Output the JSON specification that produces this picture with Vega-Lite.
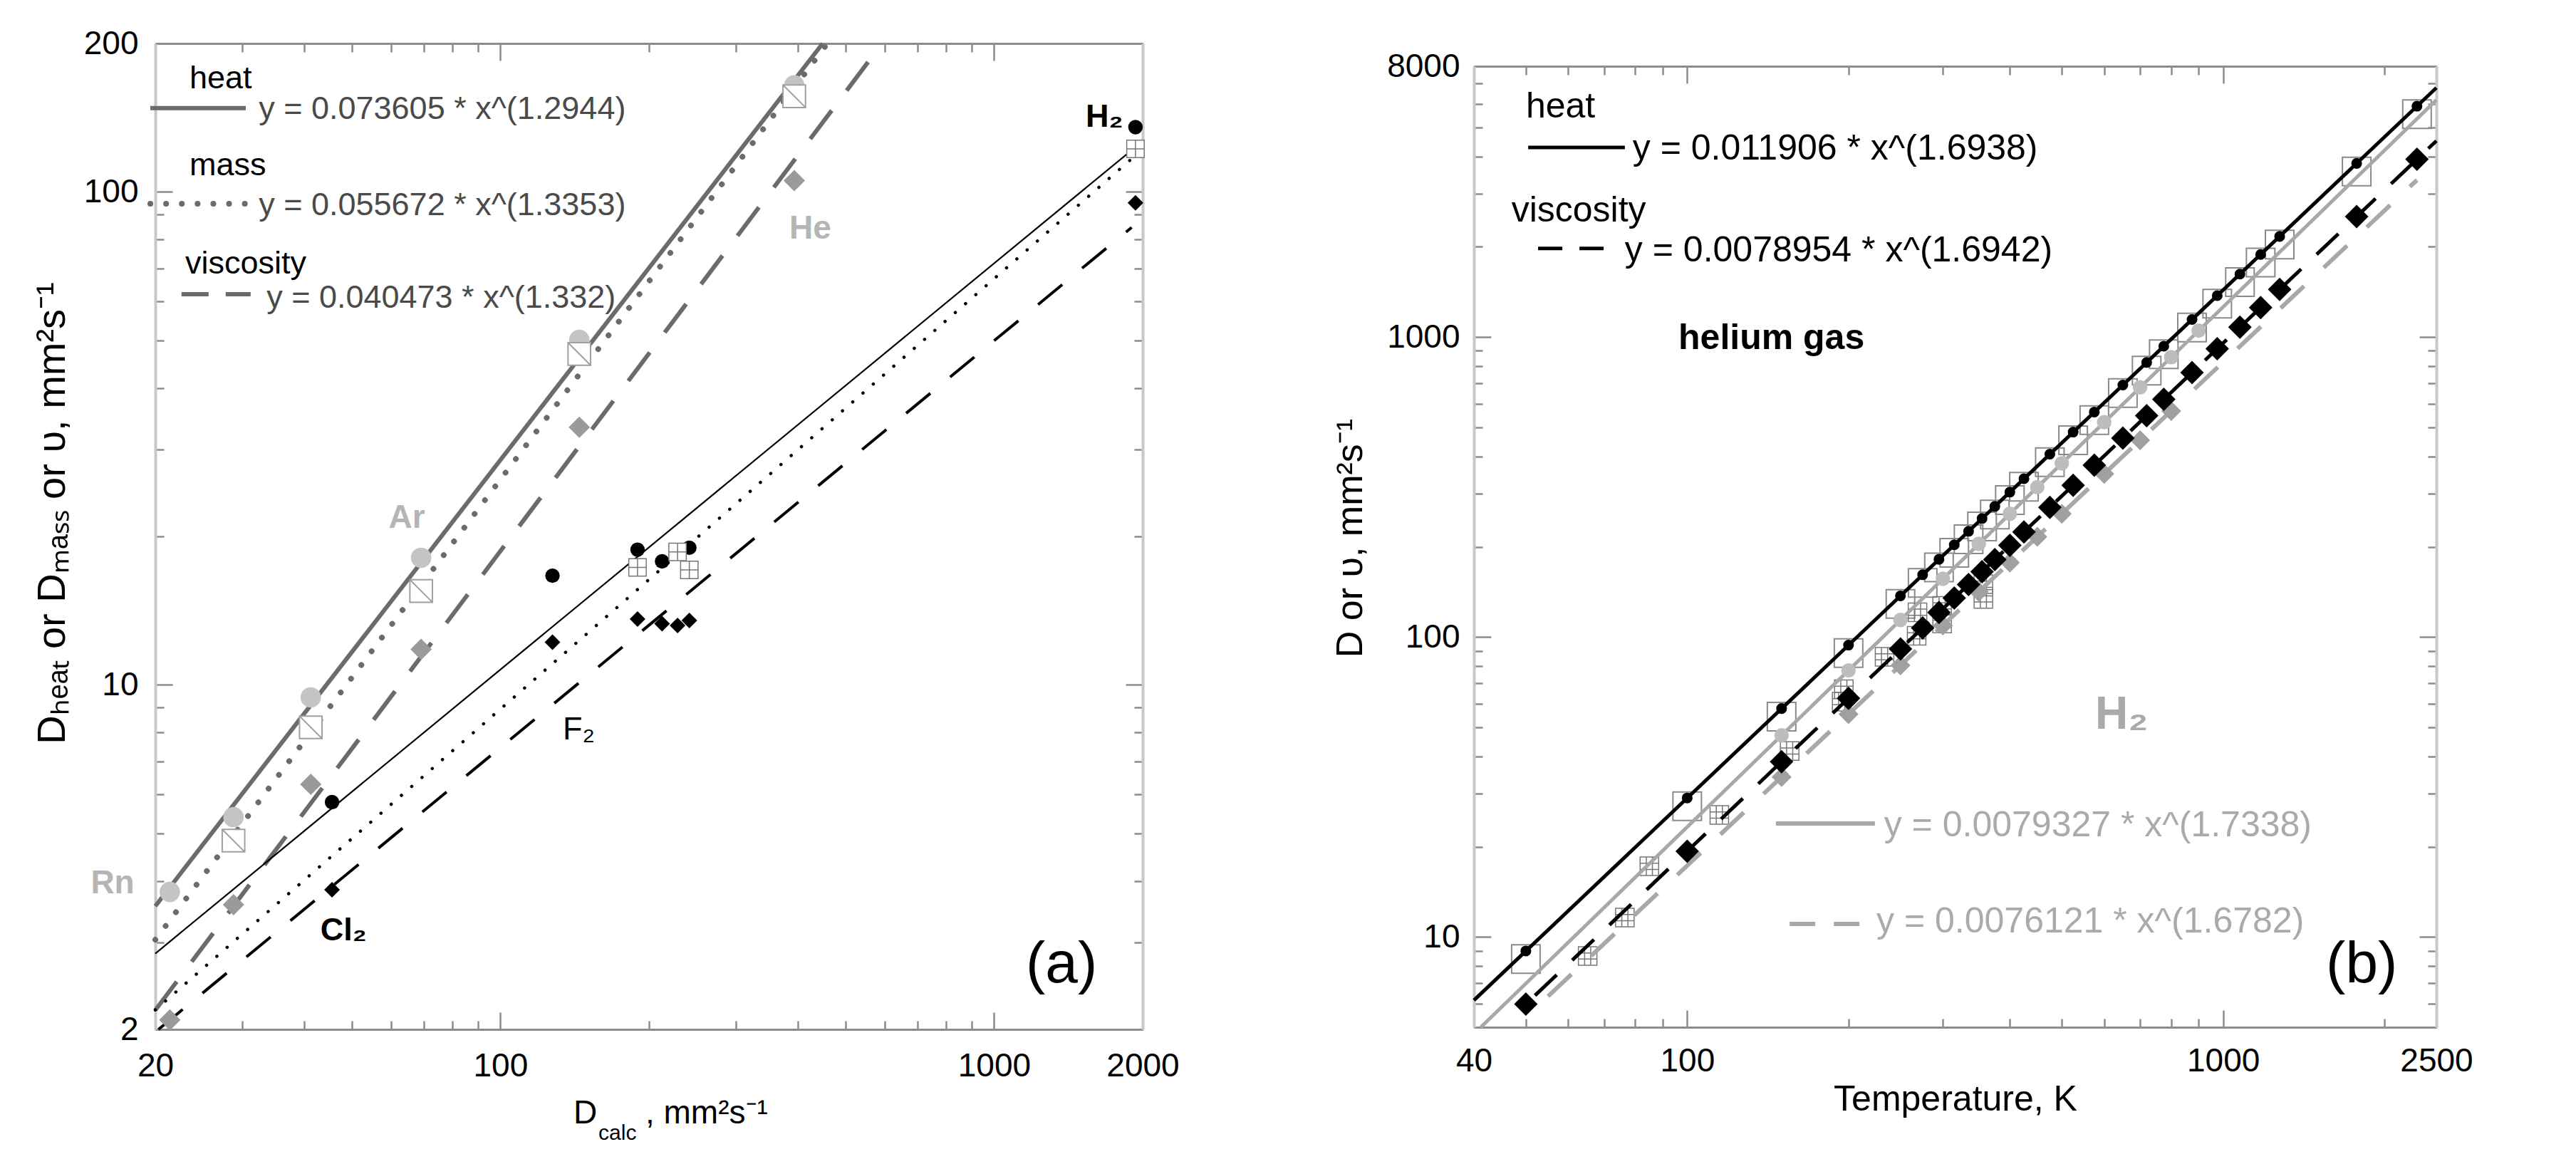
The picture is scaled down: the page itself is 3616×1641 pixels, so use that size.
{
"$schema": "https://vega.github.io/schema/vega-lite/v6.json",
"padding": {"left": 45, "top": 38, "right": 20, "bottom": 20},
"background": "white",
"config": {
  "font": "Liberation Sans",
  "view": {"stroke": null},
  "axis": {"grid": false, "labelFontSize": 46, "labelColor": "#000", "labelFont": "Liberation Sans", "tickColor": "#8c8c8c", "tickWidth": 2.5, "titleFont": "Liberation Sans", "titleColor": "#000", "titleFontWeight": "normal"}
},
"datasets": {
  "linesA": [
    {"s":"gh","x":20,"y":3.557},{"s":"gh","x":449.6,"y":200},
    {"s":"gm","x":20,"y":3.04},{"s":"gm","x":459.7,"y":200},
    {"s":"gv","x":20,"y":2.188},{"s":"gv","x":593.1,"y":200},
    {"s":"bh","x":20,"y":2.85},{"s":"bh","x":1900,"y":121.5},
    {"s":"bm","x":20,"y":2.19},{"s":"bm","x":1900,"y":116.7},
    {"s":"bv","x":20.3,"y":2.0},{"s":"bv","x":1900,"y":84.7}
  ],
  "legA": [
    {"s":"h","x":19.54,"x2":30.5,"y":147.9},
    {"s":"m","x":19.54,"x2":30.5,"y":94.6},
    {"s":"v","x":22.6,"x2":31.2,"y":62.0}
  ],
  "ptsA": [
    {"g":"nh","x":21.4,"y":3.80},{"g":"nh","x":28.8,"y":5.39},{"g":"nh","x":41.3,"y":9.43},{"g":"nh","x":69.1,"y":18.1},{"g":"nh","x":144.5,"y":50.1},{"g":"nh","x":393.8,"y":164.4},
    {"g":"nm","x":28.8,"y":4.83},{"g":"nm","x":41.3,"y":8.20},{"g":"nm","x":69.1,"y":15.5},{"g":"nm","x":144.5,"y":46.9},{"g":"nm","x":393.8,"y":156.3},
    {"g":"nv","x":21.4,"y":2.09},{"g":"nv","x":28.8,"y":3.58},{"g":"nv","x":41.3,"y":6.28},{"g":"nv","x":69.1,"y":11.8},{"g":"nv","x":144.5,"y":33.3},{"g":"nv","x":393.8,"y":105.4},
    {"g":"bh","x":45.6,"y":5.78},{"g":"bh","x":127.5,"y":16.65},{"g":"bh","x":189.6,"y":18.8},{"g":"bh","x":212.6,"y":17.8},{"g":"bh","x":241.4,"y":18.97},{"g":"bh","x":1934,"y":135.3},
    {"g":"bm","x":189.6,"y":17.3},{"g":"bm","x":228.5,"y":18.6},{"g":"bm","x":241.4,"y":17.1},{"g":"bm","x":1934,"y":122.2},
    {"g":"bv","x":45.6,"y":3.84},{"g":"bv","x":127.5,"y":12.2},{"g":"bv","x":189.6,"y":13.6},{"g":"bv","x":212.6,"y":13.3},{"g":"bv","x":228.5,"y":13.2},{"g":"bv","x":241.4,"y":13.5},{"g":"bv","x":1934,"y":95.0}
  ],
  "txtA": [
    {"g":"plain","t":"heat","x":23.45,"y":169.9},
    {"g":"plain","t":"mass","x":23.45,"y":113.2},
    {"g":"plain","t":"viscosity","x":23.0,"y":71.6},
    {"g":"plain","t":"F₂","x":133.8,"y":8.12},
    {"g":"eq","t":"y = 0.073605 * x^(1.2944)","x":32.4,"y":147.2},
    {"g":"eq","t":"y = 0.055672 * x^(1.3353)","x":32.4,"y":94.0},
    {"g":"eq","t":"y = 0.040473 * x^(1.332)","x":33.6,"y":61.0},
    {"g":"gray","t":"Rn","x":14.8,"y":3.96},
    {"g":"gray","t":"Ar","x":59.4,"y":21.8},
    {"g":"gray","t":"He","x":385,"y":84.2},
    {"g":"bold","t":"H₂","x":1533,"y":142},
    {"g":"bold","t":"Cl₂","x":43.2,"y":3.18},
    {"g":"big","t":"(a)","x":1160,"y":2.71},
    {"g":"title","t":"D","x":140.6,"y":1.289},
    {"g":"title","t":", mm²s⁻¹","x":196.7,"y":1.289},
    {"g":"sub","t":"calc","x":158.0,"y":1.194}
  ],
  "linesB": [
    {"s":"bh","x":40,"y":6.15},{"s":"bh","x":2500,"y":6780},
    {"s":"gh","x":41.2,"y":5},{"s":"gh","x":2500,"y":6174},
    {"s":"bv","x":52,"y":6.38},{"s":"bv","x":2500,"y":4510},
    {"s":"gv","x":55,"y":6.34},{"s":"gv","x":2300,"y":3340}
  ],
  "legB": [
    {"s":"bh","x":50.5,"x2":76.5,"y":4290},
    {"s":"bv","x":52.7,"x2":70.0,"y":1974},
    {"s":"gh","x":146.4,"x2":224,"y":23.9},
    {"s":"gv","x":155.3,"x2":210,"y":11.05}
  ],
  "ptsB": [
    {"g":"bh","x":50,"y":8.98},{"g":"bh","x":100,"y":29.06},{"g":"bh","x":150,"y":57.75},{"g":"bh","x":200,"y":94.0},{"g":"bh","x":250,"y":137.2},{"g":"bh","x":275,"y":161.3},{"g":"bh","x":295,"y":181.6},{"g":"bh","x":315,"y":203.0},{"g":"bh","x":335,"y":225.2},{"g":"bh","x":355,"y":248.5},{"g":"bh","x":375,"y":272.7},{"g":"bh","x":400,"y":304.2},{"g":"bh","x":425,"y":337.2},{"g":"bh","x":475,"y":407.1},{"g":"bh","x":525,"y":482.2},{"g":"bh","x":575,"y":562.5},{"g":"bh","x":650,"y":692.3},{"g":"bh","x":720,"y":823.0},{"g":"bh","x":775,"y":932.4},{"g":"bh","x":875,"y":1145},{"g":"bh","x":975,"y":1375},{"g":"bh","x":1075,"y":1622},{"g":"bh","x":1175,"y":1886},{"g":"bh","x":1275,"y":2166},{"g":"bh","x":1775,"y":3795},{"g":"bh","x":2300,"y":5888},
    {"g":"bs","x":50,"y":8.44},{"g":"bs","x":100,"y":27.3},{"g":"bs","x":150,"y":54.3},{"g":"bs","x":200,"y":88.4},{"g":"bs","x":250,"y":129},{"g":"bs","x":275,"y":151.6},{"g":"bs","x":295,"y":170.7},{"g":"bs","x":315,"y":190.8},{"g":"bs","x":335,"y":211.7},{"g":"bs","x":355,"y":233.6},{"g":"bs","x":375,"y":256.3},{"g":"bs","x":400,"y":286},{"g":"bs","x":425,"y":317},{"g":"bs","x":475,"y":382.7},{"g":"bs","x":525,"y":453.3},{"g":"bs","x":575,"y":528.8},{"g":"bs","x":650,"y":650.8},{"g":"bs","x":720,"y":773.6},{"g":"bs","x":775,"y":876.5},{"g":"bs","x":875,"y":1076},{"g":"bs","x":975,"y":1293},{"g":"bs","x":1075,"y":1525},{"g":"bs","x":1175,"y":1773},{"g":"bs","x":1275,"y":2036},{"g":"bs","x":1775,"y":3567},{"g":"bs","x":2300,"y":5535},
    {"g":"bv","x":50,"y":5.97},{"g":"bv","x":100,"y":19.31},{"g":"bv","x":150,"y":38.39},{"g":"bv","x":200,"y":62.5},{"g":"bv","x":250,"y":91.2},{"g":"bv","x":275,"y":107.2},{"g":"bv","x":295,"y":120.7},{"g":"bv","x":315,"y":134.9},{"g":"bv","x":335,"y":149.7},{"g":"bv","x":355,"y":165.2},{"g":"bv","x":375,"y":181.3},{"g":"bv","x":400,"y":202.2},{"g":"bv","x":425,"y":224.1},{"g":"bv","x":475,"y":270.5},{"g":"bv","x":525,"y":320.6},{"g":"bv","x":575,"y":374.0},{"g":"bv","x":650,"y":460.3},{"g":"bv","x":720,"y":547.4},{"g":"bv","x":775,"y":620.1},{"g":"bv","x":875,"y":761.7},{"g":"bv","x":975,"y":915.0},{"g":"bv","x":1075,"y":1080},{"g":"bv","x":1175,"y":1255},{"g":"bv","x":1275,"y":1442},{"g":"bv","x":1775,"y":2523},{"g":"bv","x":2300,"y":3916},
    {"g":"gh","x":150,"y":47.0},{"g":"gh","x":200,"y":77.4},{"g":"gh","x":250,"y":114.0},{"g":"gh","x":300,"y":156.4},{"g":"gh","x":350,"y":204.4},{"g":"gh","x":400,"y":257.6},{"g":"gh","x":450,"y":315.9},{"g":"gh","x":500,"y":379.3},{"g":"gh","x":600,"y":520.3},{"g":"gh","x":700,"y":679.8},{"g":"gh","x":800,"y":857.0},{"g":"gh","x":900,"y":1051},
    {"g":"gv","x":150,"y":34.15},{"g":"gv","x":200,"y":55.3},{"g":"gv","x":250,"y":80.5},{"g":"gv","x":300,"y":109.3},{"g":"gv","x":350,"y":141.5},{"g":"gv","x":400,"y":177.1},{"g":"gv","x":450,"y":215.8},{"g":"gv","x":500,"y":257.6},{"g":"gv","x":600,"y":349.9},{"g":"gv","x":700,"y":453.0},{"g":"gv","x":800,"y":566.8},
    {"g":"gm","x":65.2,"y":8.64},{"g":"gm","x":76.5,"y":11.6},{"g":"gm","x":85,"y":17.2},{"g":"gm","x":114.8,"y":25.5},{"g":"gm","x":155.3,"y":41.7},{"g":"gm","x":194.2,"y":60.9},{"g":"gm","x":196,"y":67},{"g":"gm","x":233.5,"y":85.9},{"g":"gm","x":268,"y":101},{"g":"gm","x":269,"y":121},{"g":"gm","x":299,"y":127},{"g":"gm","x":299,"y":111},{"g":"gm","x":357,"y":150},{"g":"gm","x":357,"y":134}
  ],
  "txtB": [
    {"g":"plain","t":"heat","x":50.0,"y":5860},
    {"g":"plain","t":"viscosity","x":47.0,"y":2636},
    {"g":"plain","t":"y = 0.011906 * x^(1.6938)","x":79.1,"y":4243},
    {"g":"plain","t":"y = 0.0078954 * x^(1.6942)","x":76.5,"y":1941},
    {"g":"bold","t":"helium gas","x":96.3,"y":993},
    {"g":"grayBig","t":"H₂","x":577,"y":55},
    {"g":"grayEq","t":"y = 0.0079327 * x^(1.7338)","x":233,"y":23.5},
    {"g":"grayEq","t":"y = 0.0076121 * x^(1.6782)","x":225.5,"y":11.23},
    {"g":"big","t":"(b)","x":1556,"y":8.09}
  ]
},
"spacing": 465,
"bounds": "flush",
"hconcat": [
{
  "width": 1386, "height": 1384,
  "encoding": {
    "x": {"field":"x","type":"quantitative","scale":{"type":"log","domain":[20,2000],"nice":false},"axis":null},
    "y": {"field":"y","type":"quantitative","scale":{"type":"log","domain":[2,200],"nice":false},"axis":null}
  },
  "layer": [
    {"data":{"name":"linesA"},"transform":[{"filter":"datum.s == 'gh'"}],
     "mark":{"type":"line","color":"#6b6b6b","strokeWidth":6},
     "encoding":{
       "x":{"field":"x","type":"quantitative","scale":{"type":"log","domain":[20,2000],"nice":false},
            "axis":{"orient":"bottom","values":[20,30,40,50,60,70,80,90,100,200,300,400,500,600,700,800,900,1000,2000],"format":"d",
                    "labelExpr":"indexof([20,100,1000,2000], datum.value) >= 0 ? datum.label : ''",
                    "tickSize":{"condition":{"test":"indexof([20,100,1000,2000], datum.value) >= 0","value":-24},"value":-12},
                    "labelPadding":53,"labelFlush":false,"labelOverlap":false,"title":null,"domainColor":"#8c8c8c","domainWidth":3}},
       "y":{"field":"y","type":"quantitative","scale":{"type":"log","domain":[2,200],"nice":false},
            "axis":{"orient":"left","values":[2,3,4,5,6,7,8,9,10,20,30,40,50,60,70,80,90,100,200],"format":"d",
                    "labelExpr":"indexof([2,10,100,200], datum.value) >= 0 ? datum.label : ''",
                    "tickSize":{"condition":{"test":"indexof([2,10,100,200], datum.value) >= 0","value":-24},"value":-12},
                    "labelPadding":48,"labelFlush":false,"labelOverlap":false,
                    "title":"Dₕₑₐₜ  or  Dₘₐₛₛ  or  υ, mm²s⁻¹","titleX":-145,"titleY":659,"titleBaseline":"middle","titleFontSize":56,
                    "domainColor":"#c8c8c8","domainWidth":4}}
     }},
    {"data":{"name":"linesA"},"transform":[{"filter":"datum.s == 'gm'"}],
     "mark":{"type":"line","color":"#6b6b6b","strokeWidth":8,"strokeDash":[0.1,24],"strokeCap":"round"},
     "encoding":{
       "x":{"field":"x","type":"quantitative","scale":{"type":"log","domain":[20,2000],"nice":false},
            "axis":{"orient":"top","values":[20,30,40,50,60,70,80,90,100,200,300,400,500,600,700,800,900,1000,2000],"labels":false,
                    "tickSize":{"condition":{"test":"indexof([20,100,1000,2000], datum.value) >= 0","value":-24},"value":-12},
                    "title":null,"domainColor":"#8c8c8c","domainWidth":3}},
       "y":{"field":"y","type":"quantitative","scale":{"type":"log","domain":[2,200],"nice":false},
            "axis":{"orient":"right","values":[2,3,4,5,6,7,8,9,10,20,30,40,50,60,70,80,90,100,200],"labels":false,
                    "tickSize":{"condition":{"test":"indexof([2,10,100,200], datum.value) >= 0","value":-24},"value":-12},
                    "title":null,"domainColor":"#c8c8c8","domainWidth":4}}
     }},
    {"data":{"name":"linesA"},"transform":[{"filter":"datum.s == 'gv'"}],
     "mark":{"type":"line","color":"#6b6b6b","strokeWidth":6,"strokeDash":[50,35]}},
    {"data":{"name":"linesA"},"transform":[{"filter":"datum.s == 'bh'"}],
     "mark":{"type":"line","color":"#000","strokeWidth":2.2}},
    {"data":{"name":"linesA"},"transform":[{"filter":"datum.s == 'bm'"}],
     "mark":{"type":"line","color":"#000","strokeWidth":4.5,"strokeDash":[0.1,19],"strokeCap":"round"}},
    {"data":{"name":"linesA"},"transform":[{"filter":"datum.s == 'bv'"}],
     "mark":{"type":"line","color":"#000","strokeWidth":4,"strokeDash":[44,36]}},
    {"data":{"name":"legA"},"transform":[{"filter":"datum.s == 'h'"}],
     "mark":{"type":"rule","color":"#6b6b6b","strokeWidth":6},
     "encoding":{"x2":{"field":"x2"}}},
    {"data":{"name":"legA"},"transform":[{"filter":"datum.s == 'm'"}],
     "mark":{"type":"rule","color":"#6b6b6b","strokeWidth":8,"strokeDash":[0.1,22],"strokeCap":"round"},
     "encoding":{"x2":{"field":"x2"}}},
    {"data":{"name":"legA"},"transform":[{"filter":"datum.s == 'v'"}],
     "mark":{"type":"rule","color":"#6b6b6b","strokeWidth":6,"strokeDash":[38,24]},
     "encoding":{"x2":{"field":"x2"}}},
    {"data":{"name":"ptsA"},"transform":[{"filter":"datum.g == 'nh'"}],
     "mark":{"type":"circle","color":"#c4c4c4","size":820,"opacity":1}},
    {"data":{"name":"ptsA"},"transform":[{"filter":"datum.g == 'bh'"}],
     "mark":{"type":"circle","color":"#000","size":415,"opacity":1}},
    {"data":{"name":"ptsA"},"transform":[{"filter":"datum.g == 'nm'"}],
     "mark":{"type":"point","shape":"M-1,-1L1,-1L1,1L-1,1Z M-1,-1L1,1","filled":true,"fill":"white","stroke":"#a0a0a0","strokeWidth":2,"size":1000,"opacity":1}},
    {"data":{"name":"ptsA"},"transform":[{"filter":"datum.g == 'bm'"}],
     "mark":{"type":"point","shape":"M-1,-1L1,-1L1,1L-1,1Z M0,-1L0,1 M-1,0L1,0","filled":true,"fill":"white","stroke":"#777","strokeWidth":1.5,"size":600,"opacity":1}},
    {"data":{"name":"ptsA"},"transform":[{"filter":"datum.g == 'nv'"}],
     "mark":{"type":"point","shape":"diamond","filled":true,"color":"#9a9a9a","size":900,"opacity":1}},
    {"data":{"name":"ptsA"},"transform":[{"filter":"datum.g == 'bv'"}],
     "mark":{"type":"point","shape":"diamond","filled":true,"color":"#000","size":484,"opacity":1}},
    {"data":{"name":"txtA"},"transform":[{"filter":"datum.g == 'plain'"}],
     "mark":{"type":"text","align":"left","baseline":"middle","fontSize":45,"color":"#000"},
     "encoding":{"text":{"field":"t"}}},
    {"data":{"name":"txtA"},"transform":[{"filter":"datum.g == 'eq'"}],
     "mark":{"type":"text","align":"left","baseline":"middle","fontSize":45,"color":"#4a4a4a"},
     "encoding":{"text":{"field":"t"}}},
    {"data":{"name":"txtA"},"transform":[{"filter":"datum.g == 'gray'"}],
     "mark":{"type":"text","align":"left","baseline":"middle","fontSize":46,"fontWeight":"bold","color":"#b5b5b5"},
     "encoding":{"text":{"field":"t"}}},
    {"data":{"name":"txtA"},"transform":[{"filter":"datum.g == 'bold'"}],
     "mark":{"type":"text","align":"left","baseline":"middle","fontSize":45,"fontWeight":"bold","color":"#000"},
     "encoding":{"text":{"field":"t"}}},
    {"data":{"name":"txtA"},"transform":[{"filter":"datum.g == 'big'"}],
     "mark":{"type":"text","align":"left","baseline":"middle","fontSize":82,"color":"#000"},
     "encoding":{"text":{"field":"t"}}},
    {"data":{"name":"txtA"},"transform":[{"filter":"datum.g == 'title'"}],
     "mark":{"type":"text","align":"left","baseline":"alphabetic","fontSize":46,"color":"#000"},
     "encoding":{"text":{"field":"t"}}},
    {"data":{"name":"txtA"},"transform":[{"filter":"datum.g == 'sub'"}],
     "mark":{"type":"text","align":"left","baseline":"alphabetic","fontSize":30,"color":"#000"},
     "encoding":{"text":{"field":"t"}}}
  ]
},
{
  "spacing": 0,
  "bounds": "flush",
  "vconcat": [
    {"width": 1351, "height": 32, "data": {"values": []}, "mark": "point"},
    {
      "width": 1351, "height": 1349,
      "encoding": {
        "x": {"field":"x","type":"quantitative","scale":{"type":"log","domain":[40,2500],"nice":false},"axis":null},
        "y": {"field":"y","type":"quantitative","scale":{"type":"log","domain":[5,8000],"nice":false},"axis":null}
      },
      "layer": [
        {"data":{"name":"ptsB"},"transform":[{"filter":"datum.g == 'bs'"}],
         "mark":{"type":"point","shape":"square","filled":false,"stroke":"#8a8a8a","strokeWidth":2,"size":1600,"opacity":1},
         "encoding":{
           "x":{"field":"x","type":"quantitative","scale":{"type":"log","domain":[40,2500],"nice":false},
                "axis":{"orient":"bottom","values":[40,50,60,70,80,90,100,200,300,400,500,600,700,800,900,1000,2000,2500],"format":"d",
                        "labelExpr":"indexof([40,100,1000,2500], datum.value) >= 0 ? datum.label : ''",
                        "tickSize":{"condition":{"test":"indexof([40,100,1000,2500], datum.value) >= 0","value":-24},"value":-12},
                        "labelPadding":49,"labelFlush":false,"labelOverlap":false,
                        "title":"Temperature, K","titleFontSize":50,"titleBaseline":"alphabetic","titleY":116,
                        "domainColor":"#8c8c8c","domainWidth":3}},
           "y":{"field":"y","type":"quantitative","scale":{"type":"log","domain":[5,8000],"nice":false},
                "axis":{"orient":"left","values":[5,6,7,8,9,10,20,30,40,50,60,70,80,90,100,200,300,400,500,600,700,800,900,1000,2000,3000,4000,5000,6000,7000,8000],"format":"d",
                        "labelExpr":"indexof([10,100,1000,8000], datum.value) >= 0 ? datum.label : ''",
                        "tickSize":{"condition":{"test":"indexof([10,100,1000,8000], datum.value) >= 0","value":-24},"value":-12},
                        "labelPadding":44,"labelFlush":false,"labelOverlap":false,
                        "title":"D or υ, mm²s⁻¹","titleX":-174,"titleY":662,"titleBaseline":"middle","titleFontSize":52,
                        "domainColor":"#c8c8c8","domainWidth":4}}
         }},
        {"data":{"name":"ptsB"},"transform":[{"filter":"datum.g == 'gm'"}],
         "mark":{"type":"point","shape":"M-1,-1L1,-1L1,1L-1,1Z M-0.33,-1L-0.33,1 M0.33,-1L0.33,1 M-1,-0.33L1,-0.33 M-1,0.33L1,0.33","filled":false,"stroke":"#777","strokeWidth":1.5,"size":676,"opacity":1},
         "encoding":{
           "x":{"field":"x","type":"quantitative","scale":{"type":"log","domain":[40,2500],"nice":false},
                "axis":{"orient":"top","values":[40,50,60,70,80,90,100,200,300,400,500,600,700,800,900,1000,2000,2500],"labels":false,
                        "tickSize":{"condition":{"test":"indexof([40,100,1000,2500], datum.value) >= 0","value":-24},"value":-12},
                        "title":null,"domainColor":"#8c8c8c","domainWidth":3}},
           "y":{"field":"y","type":"quantitative","scale":{"type":"log","domain":[5,8000],"nice":false},
                "axis":{"orient":"right","values":[5,6,7,8,9,10,20,30,40,50,60,70,80,90,100,200,300,400,500,600,700,800,900,1000,2000,3000,4000,5000,6000,7000,8000],"labels":false,
                        "tickSize":{"condition":{"test":"indexof([10,100,1000,8000], datum.value) >= 0","value":-24},"value":-12},
                        "title":null,"domainColor":"#c8c8c8","domainWidth":4}}
         }},
        {"data":{"name":"linesB"},"transform":[{"filter":"datum.s == 'gh'"}],
         "mark":{"type":"line","color":"#a8a8a8","strokeWidth":5}},
        {"data":{"name":"linesB"},"transform":[{"filter":"datum.s == 'gv'"}],
         "mark":{"type":"line","color":"#a8a8a8","strokeWidth":6,"strokeDash":[45,38]}},
        {"data":{"name":"linesB"},"transform":[{"filter":"datum.s == 'bh'"}],
         "mark":{"type":"line","color":"#000","strokeWidth":5}},
        {"data":{"name":"linesB"},"transform":[{"filter":"datum.s == 'bv'"}],
         "mark":{"type":"line","color":"#000","strokeWidth":5,"strokeDash":[42,30]}},
        {"data":{"name":"legB"},"transform":[{"filter":"datum.s == 'bh'"}],
         "mark":{"type":"rule","color":"#000","strokeWidth":5},"encoding":{"x2":{"field":"x2"}}},
        {"data":{"name":"legB"},"transform":[{"filter":"datum.s == 'bv'"}],
         "mark":{"type":"rule","color":"#000","strokeWidth":5,"strokeDash":[34,24]},"encoding":{"x2":{"field":"x2"}}},
        {"data":{"name":"legB"},"transform":[{"filter":"datum.s == 'gh'"}],
         "mark":{"type":"rule","color":"#a8a8a8","strokeWidth":6},"encoding":{"x2":{"field":"x2"}}},
        {"data":{"name":"legB"},"transform":[{"filter":"datum.s == 'gv'"}],
         "mark":{"type":"rule","color":"#a8a8a8","strokeWidth":6,"strokeDash":[36,26]},"encoding":{"x2":{"field":"x2"}}},
        {"data":{"name":"ptsB"},"transform":[{"filter":"datum.g == 'gv'"}],
         "mark":{"type":"point","shape":"diamond","filled":true,"color":"#a0a0a0","size":784,"opacity":1}},
        {"data":{"name":"ptsB"},"transform":[{"filter":"datum.g == 'gh'"}],
         "mark":{"type":"circle","color":"#bdbdbd","size":415,"opacity":1}},
        {"data":{"name":"ptsB"},"transform":[{"filter":"datum.g == 'bv'"}],
         "mark":{"type":"point","shape":"diamond","filled":true,"color":"#000","size":1089,"opacity":1}},
        {"data":{"name":"ptsB"},"transform":[{"filter":"datum.g == 'bh'"}],
         "mark":{"type":"circle","color":"#000","size":227,"opacity":1}},
        {"data":{"name":"txtB"},"transform":[{"filter":"datum.g == 'plain'"}],
         "mark":{"type":"text","align":"left","baseline":"middle","fontSize":50,"color":"#000"},
         "encoding":{"text":{"field":"t"}}},
        {"data":{"name":"txtB"},"transform":[{"filter":"datum.g == 'bold'"}],
         "mark":{"type":"text","align":"left","baseline":"middle","fontSize":50,"fontWeight":"bold","color":"#000"},
         "encoding":{"text":{"field":"t"}}},
        {"data":{"name":"txtB"},"transform":[{"filter":"datum.g == 'grayBig'"}],
         "mark":{"type":"text","align":"left","baseline":"middle","fontSize":64,"fontWeight":"bold","color":"#aaaaaa"},
         "encoding":{"text":{"field":"t"}}},
        {"data":{"name":"txtB"},"transform":[{"filter":"datum.g == 'grayEq'"}],
         "mark":{"type":"text","align":"left","baseline":"middle","fontSize":50,"color":"#aaaaaa"},
         "encoding":{"text":{"field":"t"}}},
        {"data":{"name":"txtB"},"transform":[{"filter":"datum.g == 'big'"}],
         "mark":{"type":"text","align":"left","baseline":"middle","fontSize":82,"color":"#000"},
         "encoding":{"text":{"field":"t"}}}
      ]
    }
  ]
}
]
}
